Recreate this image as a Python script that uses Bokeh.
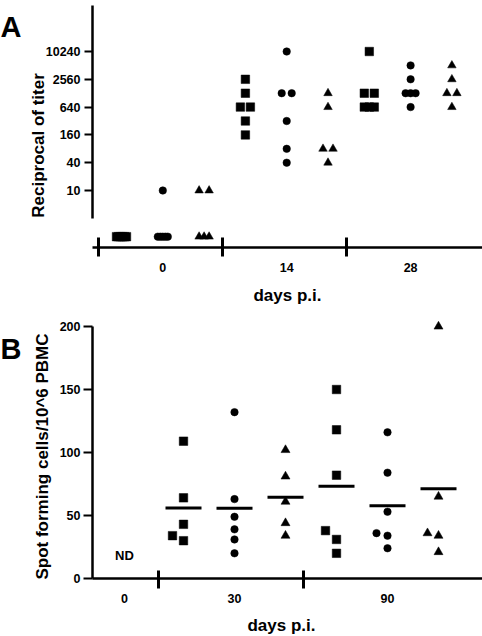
import numpy as np
from bokeh.plotting import figure
from bokeh.models import Range1d, FixedTicker, NumeralTickFormatter, Label
from bokeh.layouts import column
from bokeh.embed import file_html
from bokeh.resources import INLINE

# ---------------- data ----------------
ND = 1  # plotting level for "not detected" (< 10) in panel A

A_days = ["0", "14", "28"]
A_y_ticks = [10, 40, 160, 640, 2560, 10240]

A_squares_d0 = [ND, ND, ND, ND, ND, ND]
A_squares_d14 = [2560, 1280, 640, 640, 320, 160]
A_squares_d28 = [10240, 1280, 1280, 640, 640, 640]
A_circles_d0 = [10, ND, ND, ND, ND, ND]
A_circles_d14 = [10240, 1280, 1280, 320, 80, 40]
A_circles_d28 = [5120, 2560, 1280, 1280, 1280, 640]
A_triangles_d0 = [10, 10, ND, ND, ND]
A_triangles_d14 = [1280, 640, 80, 80, 40]
A_triangles_d28 = [5120, 2560, 1280, 1280, 640]

B_days = ["0", "30", "90"]
B_y_ticks = [0, 50, 100, 150, 200]
B_squares_d30 = [109, 64, 43, 34, 30]
B_circles_d30 = [132, 63, 49, 39, 31, 20]
B_triangles_d30 = [102, 81, 61, 44, 34]
B_squares_d90 = [150, 118, 82, 38, 31, 20]
B_circles_d90 = [116, 84, 53, 36, 34, 24]
B_triangles_d90 = [200, 65, 36, 34, 21]

FONT = "Liberation Sans"
W = 482
HA, HB = 310, 326

# ---------------- pixel <-> data helpers (layout only) ----------------
A_X0, A_SLOT = 121.0, 41.3          # px of slot 0, px per slot
A_Y10, A_DEC = 190.0, 46.17         # px of value 10, px per decade
def A_x(px): return (px - A_X0) / A_SLOT
def A_y(py): return 10 ** (1 + (A_Y10 - py) / A_DEC)

B_X0, B_SLOT = 183.0, 51.0
B_Y0, B_UNIT = 578.0, 1.26          # page px of value 0, px per unit
def B_x(px): return (px - B_X0) / B_SLOT
def B_y(py): return (B_Y0 - py) / B_UNIT   # py in page coords


def spread_equal(values, center, px_per_x, d_px=10.0, span_px=10.0):
    counts = {}
    for v in values:
        counts[v] = counts.get(v, 0) + 1
    seen = {}
    xs = []
    for v in values:
        n = counts[v]
        i = seen.get(v, 0)
        seen[v] = i + 1
        step = min(d_px, span_px / (n - 1)) if n > 1 else 0.0
        xs.append(center + (i - (n - 1) / 2.0) * step / px_per_x)
    return xs


def dodge_near(values, center, px_per_x, px_per_y, thresh=10.0, d=11.0):
    order = sorted(range(len(values)), key=lambda i: values[i])
    xs = [center] * len(values)
    placed = []
    for i in order:
        off = 0.0
        for k in [0, -1, 1, -2, 2]:
            off = k * d
            ok = True
            for po, pv in placed:
                if abs(po - off) < d * 0.9 and abs(pv - values[i]) * px_per_y < thresh:
                    ok = False
                    break
            if ok:
                break
        placed.append((off, values[i]))
        xs[i] = center + off / px_per_x
    return xs


def style_axis(ax, size="12.5px"):
    ax.axis_line_width = 2.5
    ax.axis_line_color = "black"
    ax.major_tick_line_color = "black"
    ax.minor_tick_line_color = "black"
    ax.major_label_text_font = FONT
    ax.major_label_text_font_style = "bold"
    ax.major_label_text_font_size = size
    ax.major_label_text_color = "black"


def marker_kw(marker, size):
    return dict(marker=marker, size=size, fill_color="black", line_color="black", line_width=0.5)


def text_label(p, x, y, text, size, **kw):
    p.add_layout(Label(x=x, y=y, text=text, text_font=FONT, text_font_style="bold",
                       text_font_size=size, text_color="black", **kw))

SIZES = {"square": 8.5, "circle": 7.5, "triangle": 8.5}

# ---------------- panel A ----------------
pA = figure(width=W, height=HA, y_axis_type="log",
            x_range=Range1d(A_x(0), A_x(W)), y_range=Range1d(A_y(HA), A_y(0)),
            output_backend="svg", toolbar_location=None,
            min_border_left=0, min_border_right=0, min_border_top=0, min_border_bottom=0)
pA.outline_line_color = None
pA.xgrid.visible = False
pA.ygrid.visible = False

A_series = [
    ("square", [A_squares_d0, A_squares_d14, A_squares_d28]),
    ("circle", [A_circles_d0, A_circles_d14, A_circles_d28]),
    ("triangle", [A_triangles_d0, A_triangles_d14, A_triangles_d28]),
]
for si, (mk, groups) in enumerate(A_series):
    xs, ys = [], []
    for g, vals in enumerate(groups):
        c = 3 * g + si
        xs += spread_equal(vals, c, A_SLOT)
        ys += list(vals)
    pA.scatter(xs, ys, **marker_kw(mk, SIZES[mk]))

ya = pA.yaxis[0]
style_axis(ya)
ya.fixed_location = A_x(92)
ya.ticker = FixedTicker(ticks=A_y_ticks)
ya.formatter = NumeralTickFormatter(format="0")
ya.bounds = (A_y(218), A_y(5))
ya.major_tick_in = 0
ya.major_tick_out = 8
ya.major_tick_line_width = 2
ya.major_label_standoff = 4

A_label_pos = [3 * g + 1 for g in range(3)]
A_sep_pos = [3 * g - 0.55 for g in range(3)]
xa = pA.xaxis[0]
style_axis(xa)
xa.fixed_location = A_y(247)
xa.bounds = (A_x(92), A_x(W))
xa.ticker = FixedTicker(ticks=A_label_pos, minor_ticks=A_sep_pos)
xa.major_label_overrides = {p: d for p, d in zip(A_label_pos, A_days)}
xa.major_tick_in = 0
xa.major_tick_out = 0
xa.minor_tick_in = 10
xa.minor_tick_out = 9
xa.minor_tick_line_width = 3
xa.major_label_standoff = 6

text_label(pA, A_x(0), A_y(26), "A", "29px", text_align="left", text_baseline="alphabetic")
text_label(pA, A_x(38), A_y(145), "Reciprocal of titer", "17px", angle=np.pi / 2,
           text_align="center", text_baseline="middle")
text_label(pA, A_x(287), A_y(295), "days p.i.", "17px", text_align="center", text_baseline="alphabetic")

# ---------------- panel B ----------------
pB = figure(width=W, height=HB,
            x_range=Range1d(B_x(0), B_x(W)), y_range=Range1d(B_y(HA + HB), B_y(HA)),
            output_backend="svg", toolbar_location=None,
            min_border_left=0, min_border_right=0, min_border_top=0, min_border_bottom=0)
pB.outline_line_color = None
pB.xgrid.visible = False
pB.ygrid.visible = False

B_series = [
    ("square", [B_squares_d30, B_squares_d90]),
    ("circle", [B_circles_d30, B_circles_d90]),
    ("triangle", [B_triangles_d30, B_triangles_d90]),
]
mean_x, mean_y = [], []
for si, (mk, groups) in enumerate(B_series):
    xs, ys = [], []
    for g, vals in enumerate(groups):
        c = 3 * g + si
        xs += dodge_near(vals, c, B_SLOT, B_UNIT)
        ys += list(vals)
        mean_x.append(c)
        mean_y.append(float(np.mean(vals)))
    pB.scatter(xs, ys, **marker_kw(mk, SIZES[mk] if mk != "triangle" else 9))
pB.scatter(mean_x, mean_y, marker="dash", size=36, line_width=3, line_color="black")

yb = pB.yaxis[0]
style_axis(yb)
yb.fixed_location = B_x(92)
yb.ticker = FixedTicker(ticks=B_y_ticks)
yb.bounds = (0, 200)
yb.major_tick_in = 0
yb.major_tick_out = 9
yb.major_tick_line_width = 2
yb.major_label_standoff = 3

B_label_pos = [B_x(124), 1, 4]
B_sep_pos = [B_x(158), B_x(303)]
xb = pB.xaxis[0]
style_axis(xb)
xb.fixed_location = 0
xb.bounds = (B_x(92), B_x(W))
xb.ticker = FixedTicker(ticks=B_label_pos, minor_ticks=B_sep_pos)
xb.major_label_overrides = {p: d for p, d in zip(B_label_pos, B_days)}
xb.major_tick_in = 0
xb.major_tick_out = 0
xb.minor_tick_in = 8
xb.minor_tick_out = 10
xb.minor_tick_line_width = 3
xb.major_label_standoff = 5

text_label(pB, B_label_pos[0], B_y(555), "ND", "13px", text_align="center", text_baseline="middle")
text_label(pB, B_x(0), B_y(348), "B", "29px", text_align="left", text_baseline="alphabetic")
text_label(pB, B_x(42), B_y(456), "Spot forming cells/10^6 PBMC", "17px", angle=np.pi / 2,
           text_align="center", text_baseline="middle")
text_label(pB, B_x(281), B_y(625), "days p.i.", "17px", text_align="center", text_baseline="alphabetic")

layout = column(pA, pB, spacing=0)
open("out.html", "w").write(file_html(layout, INLINE))
